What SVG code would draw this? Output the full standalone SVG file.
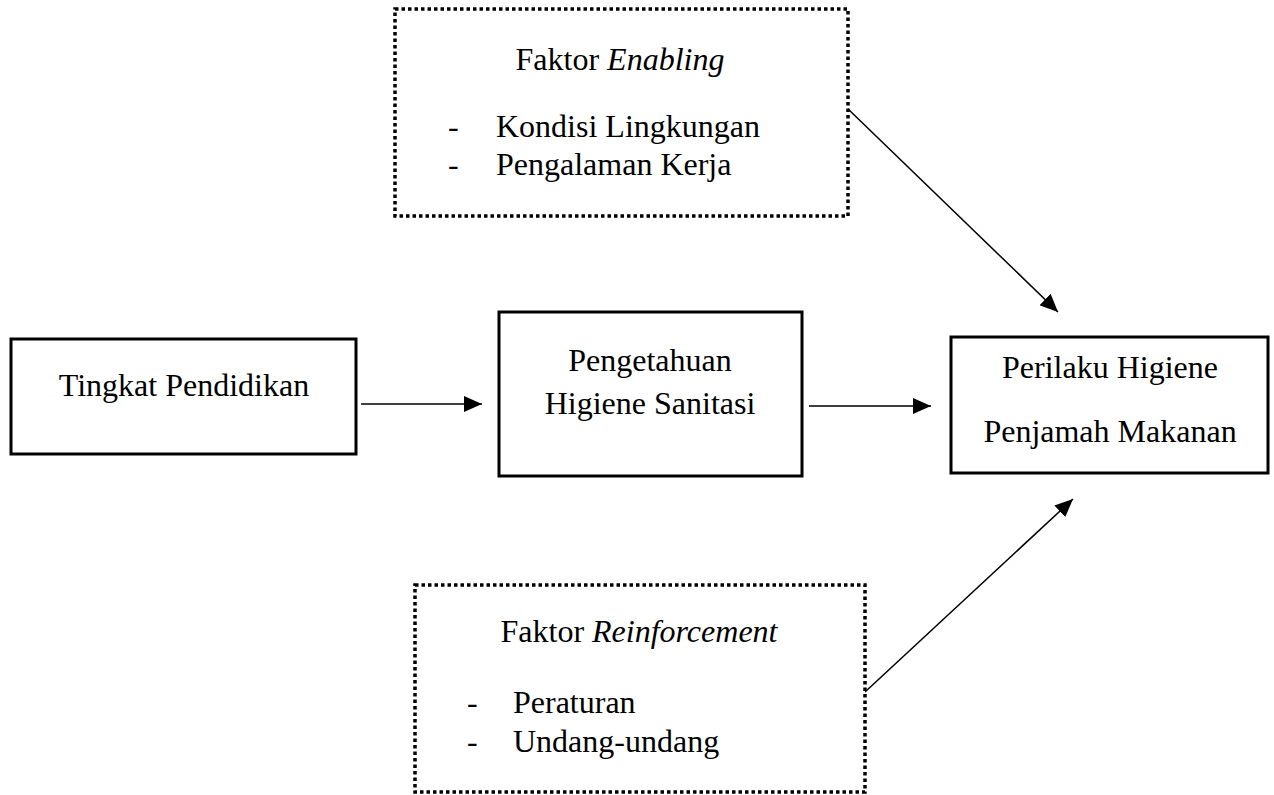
<svg xmlns="http://www.w3.org/2000/svg" width="1274" height="795" viewBox="0 0 1274 795">
<style>
text{font-family:"Liberation Serif","Times New Roman",serif;font-size:32px;fill:#000}
.box{fill:#fff;stroke:#000;stroke-width:3}
.dot{fill:#fff;stroke:#000;stroke-width:3.5;stroke-dasharray:3.5 3}
.c{text-anchor:middle}
.ln{stroke:#000;stroke-width:1.5;fill:none}
</style>
<defs>
<marker id="ah" viewBox="0 0 18 16" refX="18" refY="8" markerWidth="18" markerHeight="16" markerUnits="userSpaceOnUse" orient="auto">
<path d="M0,0 L18,8 L0,16 Z" fill="#000"/>
</marker>
</defs>
<g id="connectors">
<line class="ln" x1="361" y1="404" x2="482" y2="404" marker-end="url(#ah)"/>
<line class="ln" x1="809" y1="406" x2="931" y2="406" marker-end="url(#ah)"/>
<line class="ln" x1="847" y1="108" x2="1058" y2="312" marker-end="url(#ah)"/>
<line class="ln" x1="865" y1="692" x2="1073" y2="499" marker-end="url(#ah)"/>
</g>
<g id="enabling">
<rect class="dot" x="395" y="9" width="453" height="207"/>
<text x="620" y="70" class="c">Faktor <tspan font-style="italic">Enabling</tspan></text>
<text x="448" y="137">-</text>
<text x="496" y="137">Kondisi Lingkungan</text>
<text x="448" y="175">-</text>
<text x="496" y="175">Pengalaman Kerja</text>
</g>
<g id="tingkat">
<rect class="box" x="11" y="339" width="345" height="115"/>
<text x="184" y="396" class="c">Tingkat Pendidikan</text>
</g>
<g id="pengetahuan">
<rect class="box" x="499" y="312" width="303" height="164"/>
<text x="650" y="371" class="c">Pengetahuan</text>
<text x="650" y="414" class="c">Higiene Sanitasi</text>
</g>
<g id="perilaku">
<rect class="box" x="951" y="337" width="317" height="136"/>
<text x="1110" y="378" class="c">Perilaku Higiene</text>
<text x="1110" y="442" class="c">Penjamah Makanan</text>
</g>
<g id="reinforcement">
<rect class="dot" x="415" y="585" width="450" height="207"/>
<text x="639" y="642" class="c">Faktor <tspan font-style="italic">Reinforcement</tspan></text>
<text x="467" y="713">-</text>
<text x="513" y="713">Peraturan</text>
<text x="467" y="752">-</text>
<text x="513" y="752">Undang-undang</text>
</g>
</svg>
